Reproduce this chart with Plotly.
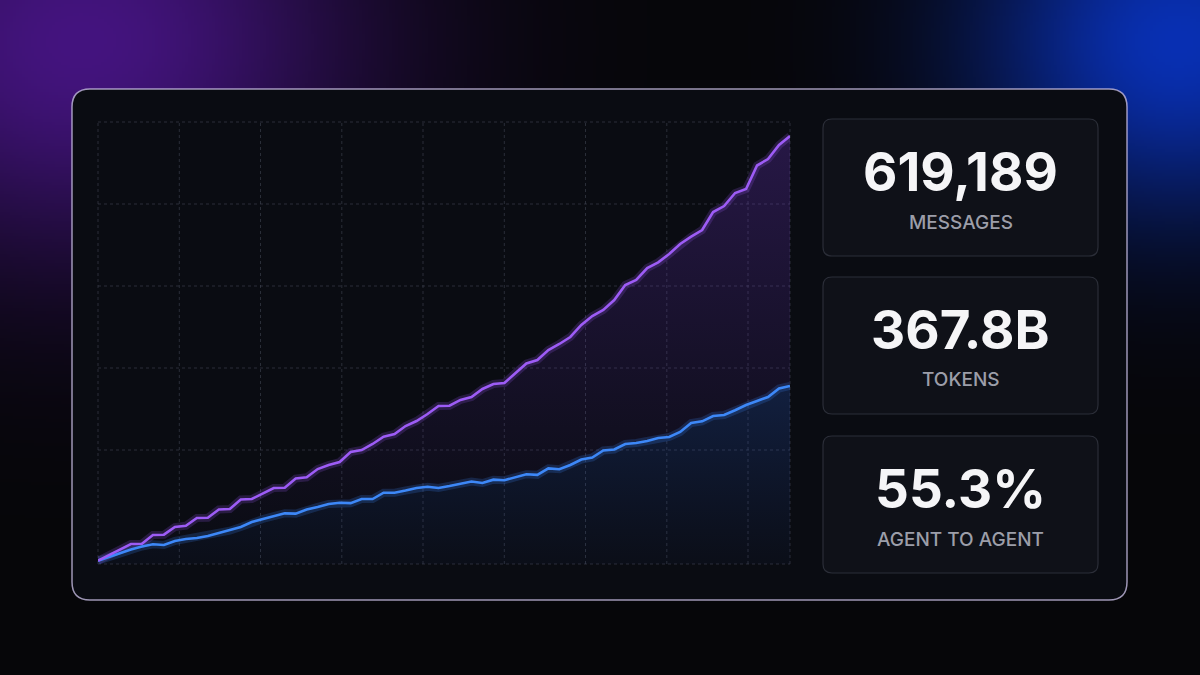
import base64
import struct
import zlib

import numpy as np
import plotly.graph_objects as go

# ---------------- data (thousands of messages, cumulative) ----------------
messages_k = [4.8, 13.0, 21.0, 28.9, 29.4, 42.0, 42.4, 53.5, 55.4, 66.5,
              67.0, 78.8, 79.6, 93.3, 94.0, 102.0, 110.0, 110.4, 123.7, 125.4,
              137.4, 143.2, 147.6, 162.0, 164.9, 173.6, 184.2, 188.1, 199.6, 206.9,
              217.0, 228.6, 229.0, 237.3, 241.6, 253.2, 260.4, 261.9, 276.3, 290.1,
              295.1, 309.6, 318.3, 328.4, 345.8, 358.8, 367.5, 381.9, 403.6, 410.9,
              428.2, 436.5, 448.5, 462.9, 473.5, 483.2, 509.2, 517.9, 536.7, 542.5,
              576.5, 585.9, 606.2, 619.2]
agent_k = [4.8, 10.1, 15.9, 21.0, 25.3, 28.5, 27.5, 33.3, 36.2, 37.6,
           40.5, 44.8, 48.2, 53.5, 60.8, 65.1, 69.4, 73.3, 72.9, 78.8,
           82.5, 86.8, 88.7, 88.0, 94.0, 94.0, 103.1, 103.1, 106.3, 109.9,
           111.8, 109.9, 112.8, 115.7, 119.4, 117.2, 122.0, 121.2, 125.9, 129.9,
           129.0, 138.3, 137.1, 143.2, 151.2, 154.1, 164.2, 165.6, 173.6, 175.0,
           177.9, 182.3, 183.7, 191.0, 204.0, 206.4, 214.1, 215.6, 222.4, 230.0,
           235.8, 241.6, 253.9, 257.5]
days = list(range(len(messages_k)))

stat_values = ["619,189", "367.8B", "55.3%"]
stat_labels = ["MESSAGES", "TOKENS", "AGENT TO AGENT"]

# ---------------- geometry helpers (pixel -> paper) ----------------
W, H = 1200, 675
PL, PR, PT, PB = 98, 790, 122, 564   # plot area in pixels
PW, PH = PR - PL, PB - PT


def px(x):
    return (x - PL) / PW


def py(y):
    return (PB - y) / PH


def P(x, y):
    return f"{px(x):.5f},{py(y):.5f}"


def rrect(x0, y0, x1, y1, r):
    return (f"M{P(x0 + r, y0)} L{P(x1 - r, y0)} Q{P(x1, y0)} {P(x1, y0 + r)} "
            f"L{P(x1, y1 - r)} Q{P(x1, y1)} {P(x1 - r, y1)} L{P(x0 + r, y1)} "
            f"Q{P(x0, y1)} {P(x0, y1 - r)} L{P(x0, y0 + r)} Q{P(x0, y0)} {P(x0 + r, y0)} Z")


# ---------------- background glow image ----------------
def png_uri(arr):
    h, w, _ = arr.shape
    raw = b"".join(b"\x00" + arr[r].tobytes() for r in range(h))

    def chunk(t, d):
        c = struct.pack(">I", len(d)) + t + d
        return c + struct.pack(">I", zlib.crc32(t + d) & 0xFFFFFFFF)

    png = (b"\x89PNG\r\n\x1a\n"
           + chunk(b"IHDR", struct.pack(">IIBBBBB", w, h, 8, 2, 0, 0, 0))
           + chunk(b"IDAT", zlib.compress(raw, 9))
           + chunk(b"IEND", b""))
    return "data:image/png;base64," + base64.b64encode(png).decode()


gw, gh = 400, 225
gx, gy = np.meshgrid(np.linspace(0, W, gw), np.linspace(0, H, gh))
base = np.array([6, 6, 9], dtype=float)
g1 = np.exp(-(((gx - 80) / 280) ** 2 + ((gy - 40) / 220) ** 2))
g2 = np.exp(-(((gx - 1180) / 200) ** 2 + ((gy - 40) / 175) ** 2))
img = (base[None, None, :]
       + g1[..., None] * np.array([62, 14, 118])[None, None, :]
       + g2[..., None] * np.array([3, 42, 170])[None, None, :])
img = np.clip(img, 0, 255).astype(np.uint8)
bg_uri = png_uri(img)

# ---------------- figure ----------------
PURPLE = "#9d5cf6"
BLUE = "#3d88f8"

fig = go.Figure()

# fills
fig.add_trace(go.Scatter(
    x=days, y=agent_k, mode="lines", line=dict(width=0, color=BLUE),
    fill="tozeroy",
    fillgradient=dict(type="vertical", colorscale=[[0, "rgba(40,90,220,0.03)"],
                                                   [1, "rgba(50,110,245,0.2)"]]),
    hoverinfo="skip", showlegend=False))
fig.add_trace(go.Scatter(
    x=days, y=messages_k, mode="lines", line=dict(width=0, color=PURPLE),
    fill="tonexty",
    fillgradient=dict(type="vertical", colorscale=[[0, "rgba(110,50,210,0.0)"],
                                                   [1, "rgba(130,60,235,0.24)"]]),
    hoverinfo="skip", showlegend=False))
# glows
for ys, col in ((agent_k, "rgba(61,136,248,0.2)"), (messages_k, "rgba(157,92,246,0.2)")):
    fig.add_trace(go.Scatter(x=days, y=ys, mode="lines",
                             line=dict(width=8, color=col, shape="linear"),
                             hoverinfo="skip", showlegend=False))
# lines
fig.add_trace(go.Scatter(x=days, y=agent_k, mode="lines",
                         line=dict(width=2.6, color=BLUE),
                         hoverinfo="skip", showlegend=False))
fig.add_trace(go.Scatter(x=days, y=messages_k, mode="lines",
                         line=dict(width=2.6, color=PURPLE),
                         hoverinfo="skip", showlegend=False))

shapes = []
# main panel
shapes.append(dict(type="path", xref="paper", yref="paper", layer="below",
                   path=rrect(72, 89, 1127, 600, 18),
                   fillcolor="#0a0c12",
                   line=dict(color="rgba(196,186,224,0.8)", width=1.5)))
# grid
grid_col = "rgba(70,74,88,0.55)"
for gxp in [98, 179.3, 260.5, 341.8, 423, 504.3, 585.5, 666.8, 748, 790]:
    shapes.append(dict(type="line", xref="paper", yref="paper", layer="below",
                       x0=px(gxp), x1=px(gxp), y0=0, y1=1,
                       line=dict(color=grid_col, width=1, dash="dot")))
for gyp in [122, 204, 286, 368, 450, 564]:
    shapes.append(dict(type="line", xref="paper", yref="paper", layer="below",
                       x0=0, x1=1, y0=py(gyp), y1=py(gyp),
                       line=dict(color=grid_col, width=1, dash="dot")))
# stat cards
cards = [(119, 256), (277, 414), (436, 573)]
for (c0, c1) in cards:
    shapes.append(dict(type="path", xref="paper", yref="paper", layer="below",
                       path=rrect(823, c0, 1098, c1, 9),
                       fillcolor="#0f1118",
                       line=dict(color="#2b2e38", width=1.2)))

annotations = []
for (c0, c1), val, lab in zip(cards, stat_values, stat_labels):
    annotations.append(dict(xref="paper", yref="paper", x=px(960.5), y=py(c0 + 53),
                            text=val, showarrow=False, xanchor="center", yanchor="middle",
                            font=dict(family="Inter", size=53, color="#f5f5f7", weight=700)))
    annotations.append(dict(xref="paper", yref="paper", x=px(960.5), y=py(c0 + 103),
                            text=lab, showarrow=False, xanchor="center", yanchor="middle",
                            font=dict(family="Inter", size=19, color="#9c9ea9", weight=500)))

fig.update_layout(
    width=W, height=H, autosize=False,
    margin=dict(l=PL, r=W - PR, t=PT, b=H - PB, pad=0),
    paper_bgcolor="#060609", plot_bgcolor="rgba(0,0,0,0)",
    xaxis=dict(range=[0, len(days) - 1], showgrid=False, zeroline=False,
               showticklabels=False, showline=False, fixedrange=True),
    yaxis=dict(range=[0, 639.45], showgrid=False, zeroline=False,
               showticklabels=False, showline=False, fixedrange=True),
    images=[dict(source=bg_uri, xref="paper", yref="paper",
                 x=px(0), y=py(0), sizex=W / PW, sizey=H / PH,
                 xanchor="left", yanchor="top", sizing="stretch", layer="below")],
    shapes=shapes, annotations=annotations,
    hovermode=False, showlegend=False,
)

fig.write_html("out.html", config={"displayModeBar": False, "staticPlot": True},
               post_script="document.body.style.margin='0';document.body.style.background='#060609';")
